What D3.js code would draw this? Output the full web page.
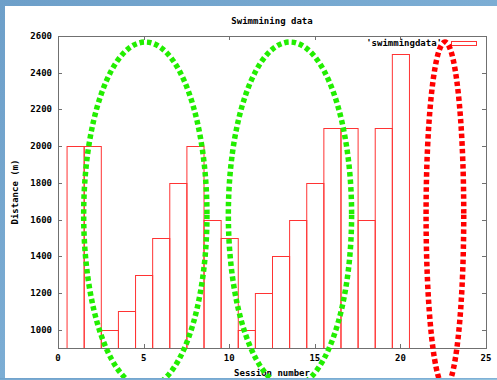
<!DOCTYPE html>
<html>
<head>
<meta charset="utf-8">
<title>Swimming data</title>
<script src="https://d3js.org/d3.v7.min.js"></script>
<style>
  body { margin: 0; padding: 0; overflow: hidden; }
  svg { display: block; }
  text { font-family: "DejaVu Sans Mono", "Liberation Mono", monospace; font-size: 9px; font-weight: bold; fill: #000; }
</style>
</head>
<body>
<svg id="chart"></svg>
<script>
// session number and distance swum (m)
const sessions = [1, 2, 3, 4, 5, 6, 7, 8, 9, 10, 11, 12, 13, 14, 15, 16, 17, 18, 19, 20];
const distances = [2000, 2000, 1000, 1100, 1300, 1500, 1800, 2000, 1600, 1500,
                   1000, 1200, 1400, 1600, 1800, 2100, 2100, 1600, 2100, 2500];

const xTicks = [0, 5, 10, 15, 20, 25];
const yTicks = [1000, 1200, 1400, 1600, 1800, 2000, 2200, 2400, 2600];

// hand-drawn highlight rings, in data units
const ringX = [5.1, 13.55, 22.6];
const ringY = [1626, 1626, 1626];
const ringRx = [3.6, 3.6, 1.1];
const ringRy = [941, 941, 941];
const ringColor = ["#22ee00", "#22ee00", "#ff0000"];

const W = 497, H = 380;
const m = {left: 58, right: 11, top: 36, bottom: 32};

const svg = d3.select("#chart").attr("width", W).attr("height", H);

// screenshot frame
const grad = svg.append("defs").append("linearGradient").attr("id", "bg")
  .attr("x1", 0).attr("y1", 0).attr("x2", 1).attr("y2", 1);
grad.append("stop").attr("offset", "0%").attr("stop-color", "#6d9fc9");
grad.append("stop").attr("offset", "60%").attr("stop-color", "#7fb0d6");
grad.append("stop").attr("offset", "100%").attr("stop-color", "#9ccbe0");
svg.append("rect").attr("width", W).attr("height", H).attr("fill", "url(#bg)");
svg.append("rect").attr("x", 5).attr("y", 6).attr("width", W - 5).attr("height", 372).attr("fill", "#fff");

const x = d3.scaleLinear().domain([0, 25]).range([m.left, W - m.right]);
const y = d3.scaleLinear().domain([900, 2600]).range([H - m.bottom, m.top]);

// boxes
svg.append("g").selectAll("rect")
  .data(sessions)
  .join("rect")
  .attr("x", d => x(d - 0.5) + 0.5)
  .attr("y", (d, i) => Math.round(y(distances[i])) + 0.5)
  .attr("width", d => x(d + 0.5) - x(d - 0.5))
  .attr("height", (d, i) => y(900) - Math.round(y(distances[i])))
  .attr("fill", "none")
  .attr("stroke", "#ff3333")
  .attr("stroke-width", 1);

// frame and inward ticks
const frame = svg.append("g").attr("stroke", "#707070").attr("stroke-width", 1).attr("fill", "none");
frame.append("rect")
  .attr("x", m.left + 0.5).attr("y", m.top + 0.5)
  .attr("width", W - m.left - m.right).attr("height", H - m.top - m.bottom);

const tl = 4;
xTicks.slice(1, -1).forEach(t => {
  const px = Math.round(x(t)) + 0.5;
  frame.append("line").attr("x1", px).attr("x2", px).attr("y1", y(900)).attr("y2", y(900) - tl);
  frame.append("line").attr("x1", px).attr("x2", px).attr("y1", m.top).attr("y2", m.top + tl);
});
yTicks.slice(0, -1).forEach(t => {
  const py = Math.round(y(t)) + 0.5;
  frame.append("line").attr("x1", m.left).attr("x2", m.left + tl).attr("y1", py).attr("y2", py);
  frame.append("line").attr("x1", W - m.right).attr("x2", W - m.right - tl).attr("y1", py).attr("y2", py);
});

// tick labels
svg.append("g").selectAll("text")
  .data(xTicks)
  .join("text")
  .attr("x", d => x(d))
  .attr("y", y(900) + 13)
  .attr("text-anchor", "middle")
  .text(d => d);

svg.append("g").selectAll("text")
  .data(yTicks)
  .join("text")
  .attr("x", m.left - 6)
  .attr("y", d => y(d) + 3)
  .attr("text-anchor", "end")
  .text(d => d);

// titles
const cx = (m.left + W - m.right) / 2;
svg.append("text").attr("x", cx).attr("y", 24).attr("text-anchor", "middle").text("Swimmining data");
svg.append("text").attr("x", cx).attr("y", 376).attr("text-anchor", "middle").text("Session number");
svg.append("text")
  .attr("transform", `translate(18,${(m.top + H - m.bottom) / 2}) rotate(-90)`)
  .attr("text-anchor", "middle")
  .text("Distance (m)");

// key
svg.append("text").attr("x", 442).attr("y", 46).attr("text-anchor", "end").text("'swimmingdata'");
svg.append("rect").attr("x", 451.5).attr("y", 41.5).attr("width", 25).attr("height", 4)
  .attr("fill", "none").attr("stroke", "#ff3333");

// highlight rings
svg.append("g").selectAll("ellipse")
  .data(ringX)
  .join("ellipse")
  .attr("cx", d => x(d))
  .attr("cy", (d, i) => y(ringY[i]))
  .attr("rx", (d, i) => x(ringRx[i]) - x(0))
  .attr("ry", (d, i) => y(900) - y(900 + ringRy[i]))
  .attr("fill", "none")
  .attr("stroke", (d, i) => ringColor[i])
  .attr("stroke-width", 5.5)
  .attr("stroke-dasharray", "4.5,3");

// bottom edge of the screenshot frame
svg.append("rect").attr("x", 0).attr("y", 378).attr("width", W).attr("height", 2).attr("fill", "url(#bg)");
</script>
</body>
</html>
